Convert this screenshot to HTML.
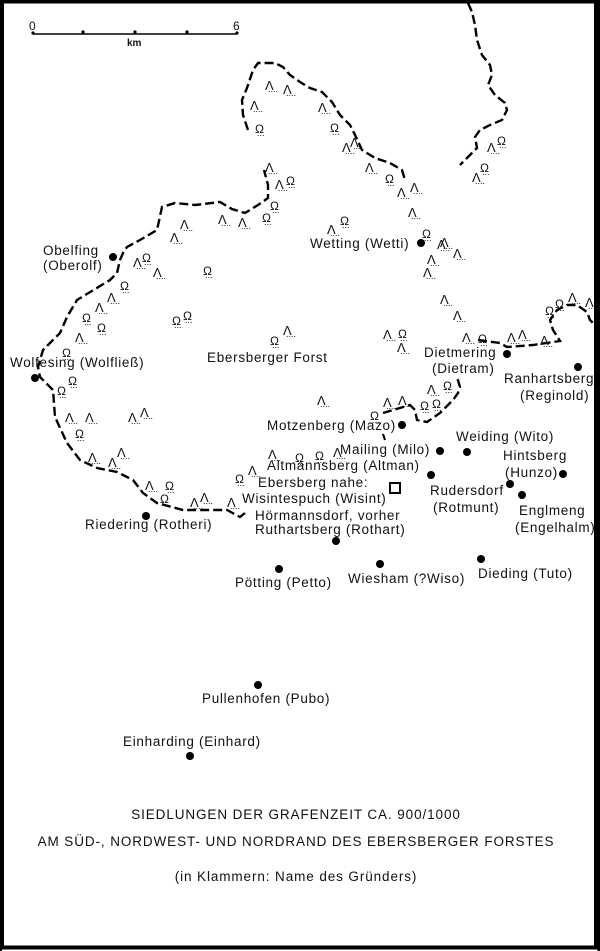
<!DOCTYPE html>
<html><head><meta charset="utf-8"><style>
html,body{margin:0;padding:0;background:#fff;}
svg{display:block;}
text{font-family:"Liberation Sans",sans-serif;fill:#111;}
</style></head><body>
<svg id="m" width="600" height="951" viewBox="0 0 600 951" xmlns="http://www.w3.org/2000/svg">
<rect x="2" y="1.5" width="594" height="946" fill="#fff" stroke="#000" stroke-width="4"/>
<line x1="0" y1="0" x2="0" y2="951" stroke="#000" stroke-width="4"/>
<line x1="599" y1="0" x2="599" y2="951" stroke="#000" stroke-width="3"/>
<line x1="33" y1="34" x2="237" y2="34" stroke="#000" stroke-width="1.5"/>
<g fill="#000"><circle cx="33" cy="33" r="1.6"/><circle cx="83" cy="32" r="1.6"/><circle cx="135" cy="32" r="1.6"/><circle cx="187" cy="32" r="1.6"/><circle cx="237" cy="33" r="1.6"/></g>
<text x="29" y="30" font-size="12">0</text><text x="233" y="30" font-size="12">6</text>
<text x="127" y="46" font-size="10" font-weight="bold">km</text>
<g fill="none" stroke="#000" stroke-width="2.4" stroke-dasharray="9,4">
<path d="M245,513 L240,517 227,510 183,510 157,503 143,493 133,480 117,472 97,468 80,460 67,443 55,417 53,390 40,377 38,367 43,350 60,333 67,317 77,300 110,280 117,273 120,260 123,253 127,247 140,240 157,230 162,207 175,203 195,205 220,202 232,209 245,213 258,205 268,198 268,185 264,170"/>
<path d="M248,130 L243,115 242,100 247,88 253,70 258,63 275,63 283,67 290,75 300,82 310,88 322,92 332,102 340,115 350,125 355,135 362,150 375,158 390,163 402,170 405,180"/>
<path d="M468,3 L472,12 475,25 477,40 482,55 490,65 492,75 488,85 495,95 505,103 507,110 502,120 490,125 480,130 475,137 477,148 470,155 460,165"/>
<path d="M478,340 L500,343 507,347 533,345 560,341 553,330 550,320 557,310 567,305 577,305 587,312 590,320 597,327"/>
<path d="M383,413 L410,405 415,410 417,420 427,422 440,413 453,400 458,393 460,387 457,377"/>
</g>
<line x1="383" y1="434" x2="385" y2="440" stroke="#000" stroke-width="2"/>
<g id="sym"></g>
<g fill="#000">
<circle cx="113" cy="257" r="4"/><circle cx="35" cy="378" r="4"/><circle cx="421" cy="243" r="4"/>
<circle cx="507" cy="354" r="4"/><circle cx="578" cy="367" r="4"/><circle cx="402" cy="425" r="4"/>
<circle cx="440" cy="451" r="4"/><circle cx="467" cy="452" r="4"/><circle cx="563" cy="474" r="4"/>
<circle cx="431" cy="475" r="4"/><circle cx="336" cy="541" r="4"/><circle cx="510" cy="484" r="4"/>
<circle cx="522" cy="495" r="4"/><circle cx="146" cy="516" r="4"/><circle cx="279" cy="569" r="4"/>
<circle cx="380" cy="564" r="4"/><circle cx="481" cy="559" r="4"/><circle cx="258" cy="685" r="4"/>
<circle cx="190" cy="756" r="4"/>
</g>
<rect x="390" y="483" width="10" height="10" fill="none" stroke="#000" stroke-width="2"/>
<g font-size="13.5" letter-spacing="0.7">
<text x="43" y="255">Obelfing</text><text x="43" y="270">(Oberolf)</text>
<text x="10" y="367">Wolfesing (Wolfließ)</text>
<text x="207" y="362">Ebersberger Forst</text>
<text x="310" y="248">Wetting (Wetti)</text>
<text x="424" y="357">Dietmering</text><text x="432" y="373">(Dietram)</text>
<text x="504" y="383">Ranhartsberg</text><text x="520" y="400">(Reginold)</text>
<text x="267" y="430">Motzenberg (Mazo)</text>
<text x="340" y="454">Mailing (Milo)</text>
<text x="456" y="441">Weiding (Wito)</text>
<text x="503" y="460">Hintsberg</text><text x="505" y="477">(Hunzo)</text>
<text x="267" y="470">Altmannsberg (Altman)</text>
<text x="258" y="487">Ebersberg nahe:</text>
<text x="242" y="503">Wisintespuch (Wisint)</text>
<text x="255" y="520">Hörmannsdorf, vorher</text>
<text x="255" y="534">Ruthartsberg (Rothart)</text>
<text x="430" y="495">Rudersdorf</text><text x="433" y="512">(Rotmunt)</text>
<text x="519" y="515">Englmeng</text><text x="515" y="532">(Engelhalm)</text>
<text x="85" y="529">Riedering (Rotheri)</text>
<text x="235" y="587">Pötting (Petto)</text>
<text x="348" y="583">Wiesham (?Wiso)</text>
<text x="478" y="578">Dieding (Tuto)</text>
<text x="202" y="703">Pullenhofen (Pubo)</text>
<text x="123" y="746">Einharding (Einhard)</text>
</g>
<g font-size="13.5" letter-spacing="0.9" text-anchor="middle">
<text x="296" y="819">SIEDLUNGEN DER GRAFENZEIT CA. 900/1000</text>
<text x="296" y="846">AM SÜD-, NORDWEST- UND NORDRAND DES EBERSBERGER FORSTES</text>
<text x="296" y="881">(in Klammern: Name des Gründers)</text>
</g>
</svg>
<script>
var L=[[265,78],[283,82],[250,98],[265,160],[275,177],[218,212],[238,215],[170,230],[180,217],[318,100],[342,140],[350,135],[365,160],[397,185],[410,180],[408,205],[440,235],[327,222],[487,140],[472,170],
[133,255],[153,265],[107,290],[95,300],[75,330],[65,410],[85,410],[128,410],[140,405],[88,450],[108,455],[117,445],[145,478],[190,495],[200,490],[227,495],[283,323],
[437,237],[453,246],[427,252],[423,265],[440,292],[453,308],[462,330],[383,327],[397,340],[507,330],[518,327],[540,333],[568,290],[585,295],[427,382],[383,395],[398,393],[317,393],[268,447],[333,445],[248,463]];
var O=[[255,123],[286,175],[270,200],[262,212],[330,122],[385,173],[422,228],[340,215],[497,135],[480,162],[142,252],[203,265],[120,280],[82,312],[97,322],[62,347],[68,375],[57,385],[75,428],[165,480],[160,493],[172,315],[183,310],[270,335],[478,333],[398,328],[545,305],[555,298],[443,380],[370,410],[432,398],[420,400],[295,452],[315,450],[235,473]];
var g=document.getElementById('sym'),s='';
L.forEach(function(p){s+='<text x="'+p[0]+'" y="'+(p[1]+12)+'" font-size="13">Λ</text><text x="'+(p[0]+3)+'" y="'+(p[1]+14)+'" font-size="9">....</text>';});
O.forEach(function(p){s+='<text x="'+p[0]+'" y="'+(p[1]+10)+'" font-size="12">Ω</text><text x="'+(p[0]+2)+'" y="'+(p[1]+13)+'" font-size="9">...</text>';});
g.innerHTML=s;
</script>
</body></html>
